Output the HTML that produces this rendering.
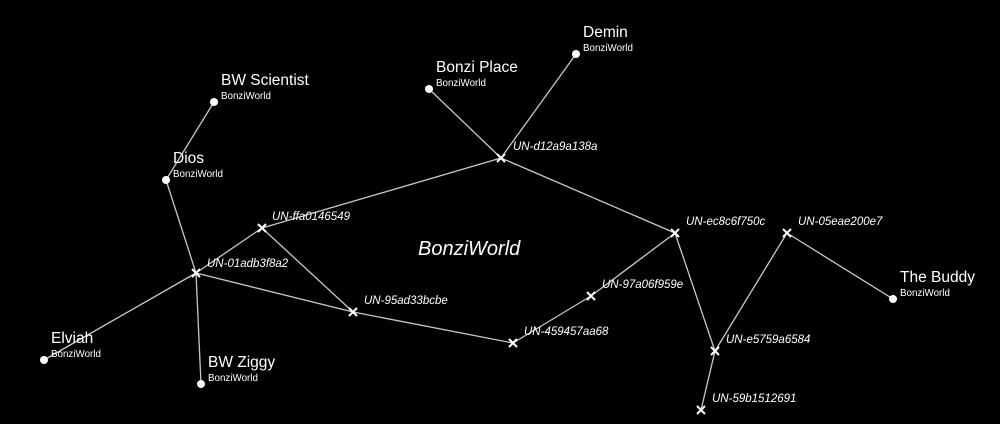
<!DOCTYPE html><html><head><style>html,body{margin:0;background:#000;}svg{display:block}text{font-family:"Liberation Sans",sans-serif;fill:#fff}</style></head><body>
<svg width="1000" height="424" viewBox="0 0 1000 424">
<g stroke="#c8c8c8" stroke-width="1.3">
<line x1="214" y1="102" x2="166" y2="180"/><line x1="166" y1="180" x2="196" y2="273"/>
<line x1="196" y1="273" x2="262" y2="228"/><line x1="196" y1="273" x2="44" y2="360"/>
<line x1="196" y1="273" x2="201" y2="384"/><line x1="196" y1="273" x2="353" y2="312"/>
<line x1="262" y1="228" x2="501" y2="158"/><line x1="262" y1="228" x2="353" y2="312"/>
<line x1="501" y1="158" x2="429" y2="89"/><line x1="501" y1="158" x2="576" y2="54"/>
<line x1="501" y1="158" x2="675" y2="233"/><line x1="353" y1="312" x2="513" y2="343"/>
<line x1="513" y1="343" x2="591" y2="296"/><line x1="591" y1="296" x2="675" y2="233"/>
<line x1="675" y1="233" x2="715" y2="351"/><line x1="715" y1="351" x2="787" y2="233"/>
<line x1="787" y1="233" x2="893" y2="299"/><line x1="715" y1="351" x2="701" y2="410"/>
</g>
<g fill="#fff">
<circle cx="214" cy="102" r="4"/><circle cx="166" cy="180" r="4"/><circle cx="429" cy="89" r="4"/><circle cx="576" cy="54" r="4"/><circle cx="44" cy="360" r="4"/><circle cx="201" cy="384" r="4"/><circle cx="893" cy="299" r="4"/>
</g>
<g stroke="#fff" stroke-width="2">
<path d="M192 269l8 8M200 269l-8 8"/><path d="M258 224l8 8M266 224l-8 8"/><path d="M497 154l8 8M505 154l-8 8"/><path d="M349 308l8 8M357 308l-8 8"/><path d="M509 339l8 8M517 339l-8 8"/><path d="M587 292l8 8M595 292l-8 8"/><path d="M671 229l8 8M679 229l-8 8"/><path d="M783 229l8 8M791 229l-8 8"/><path d="M711 347l8 8M719 347l-8 8"/><path d="M697 406l8 8M705 406l-8 8"/>
</g>
<g font-size="15.5">
<text x="221" y="85">BW Scientist</text><text x="173" y="163">Dios</text><text x="436" y="72">Bonzi Place</text><text x="583" y="37">Demin</text><text x="51" y="343">Elviah</text><text x="208" y="367">BW Ziggy</text><text x="900" y="282">The Buddy</text>
</g>
<g font-size="9.8">
<text x="221" y="99">BonziWorld</text><text x="173" y="177">BonziWorld</text><text x="436" y="86">BonziWorld</text><text x="583" y="51">BonziWorld</text><text x="51" y="357">BonziWorld</text><text x="208" y="381">BonziWorld</text><text x="900" y="296">BonziWorld</text>
</g>
<g font-size="11.5" font-style="italic">
<text x="207" y="267">UN-01adb3f8a2</text><text x="272" y="220">UN-ffa0146549</text><text x="513" y="150">UN-d12a9a138a</text><text x="364" y="304">UN-95ad33bcbe</text><text x="524" y="335">UN-459457aa68</text><text x="602" y="288">UN-97a06f959e</text><text x="686" y="225">UN-ec8c6f750c</text><text x="798" y="225">UN-05eae200e7</text><text x="726" y="343">UN-e5759a6584</text><text x="712" y="402">UN-59b1512691</text>
</g>
<text x="418" y="255" font-size="20" font-style="italic">BonziWorld</text>
</svg></body></html>
